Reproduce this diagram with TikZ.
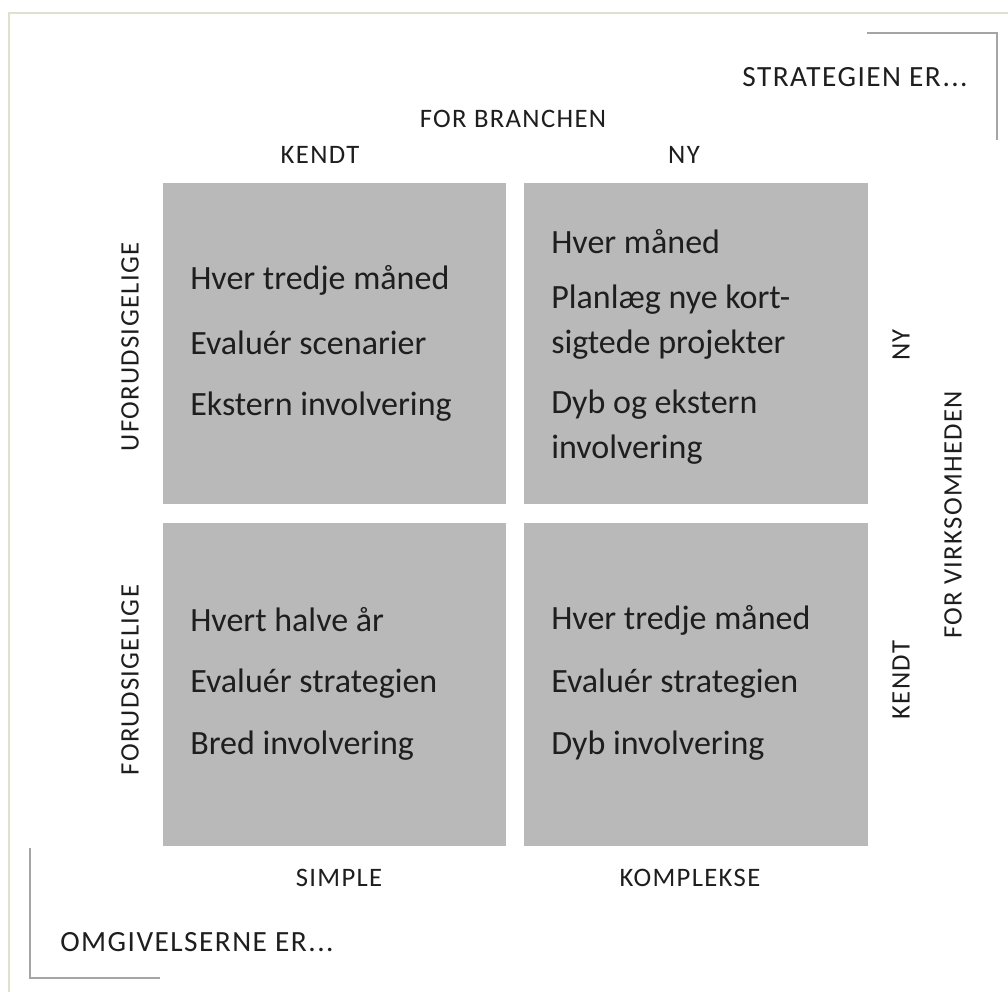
\documentclass[tikz,border=0pt]{standalone}
\usepackage{fontspec}
\setmainfont{Carlito}
\definecolor{frame}{RGB}{224,224,204}
\definecolor{boxgray}{RGB}{185,185,185}
\definecolor{brk}{RGB}{165,165,165}
\definecolor{ink}{RGB}{30,30,30}
\newfontfamily\lblfont[LetterSpace=5]{Carlito}
\begin{document}
\begin{tikzpicture}[x=0.75pt,y=-0.75pt,
  cell/.style={fill=boxgray,draw=none,minimum width=257.25pt,minimum height=240.75pt,inner sep=0pt,anchor=north west},
  celltxt/.style={anchor=west,text=ink,font=\fontsize{25.5}{30}\selectfont,inner sep=0pt},
  lbl/.style={text=ink,font=\lblfont\fontsize{20}{24}\selectfont,inner sep=0pt},
  biglbl/.style={text=ink,font=\lblfont\fontsize{22}{26}\selectfont,inner sep=0pt},
  vlbl/.style={lbl,rotate=90},
  brkline/.style={draw=brk,line width=1.5pt}]
\useasboundingbox (0,0) rectangle (1008,992);
\fill[white] (0,0) rectangle (1008,992);
% outer frame
\draw[frame,line width=2.2pt] (1008,13) -- (9,13) -- (9,992);
% brackets
\draw[brkline] (867,33) -- (997,33) -- (997,140);
\draw[brkline] (30,848) -- (30,978) -- (160,978);
% cells
\node[cell] (tl) at (163,183) {};
\node[cell,minimum width=258pt] (tr) at (524,183) {};
\node[cell,minimum height=242.25pt] (bl) at (163,523) {};
\node[cell,minimum width=258pt,minimum height=242.25pt] (br) at (524,523) {};
% cell texts
\node[celltxt] (tl1) at (190,280) {Hver tredje måned};
\node[celltxt] (tl2) at (190,343) {Evaluér scenarier};
\node[celltxt] (tl3) at (190,407) {Ekstern involvering};
\node[celltxt] (tr1) at (551,242) {Hver måned};
\node[celltxt] (tr2) at (551,300) {Planlæg nye kort-};
\node[celltxt] (tr3) at (551,345) {sigtede projekter};
\node[celltxt] (tr4) at (551,405) {Dyb og ekstern};
\node[celltxt] (tr5) at (551,450) {involvering};
\node[celltxt] (bl1) at (190,620) {Hvert halve år};
\node[celltxt] (bl2) at (190,684) {Evaluér strategien};
\node[celltxt] (bl3) at (190,746) {Bred involvering};
\node[celltxt] (br1) at (551,620) {Hver tredje måned};
\node[celltxt] (br2) at (551,684) {Evaluér strategien};
\node[celltxt] (br3) at (551,746) {Dyb involvering};
% labels
\node[biglbl] (strat) at (855,77) {STRATEGIEN ER...};
\node[lbl] (branchen) at (513,119) {FOR BRANCHEN};
\node[lbl] (kendtTop) at (320,155) {KENDT};
\node[lbl] (nyTop) at (684,155) {NY};
\node[vlbl] (ufor) at (130,347) {UFORUDSIGELIGE};
\node[vlbl] (for) at (130,680) {FORUDSIGELIGE};
\node[vlbl] (nyR) at (901,345) {NY};
\node[vlbl] (kendtR) at (901,680) {KENDT};
\node[vlbl] (virk) at (953,515) {FOR VIRKSOMHEDEN};
\node[lbl] (simple) at (339,878) {SIMPLE};
\node[lbl] (kompl) at (690,878) {KOMPLEKSE};
\node[biglbl,anchor=west] (omg) at (60,942) {OMGIVELSERNE ER...};
\end{tikzpicture}
\end{document}
